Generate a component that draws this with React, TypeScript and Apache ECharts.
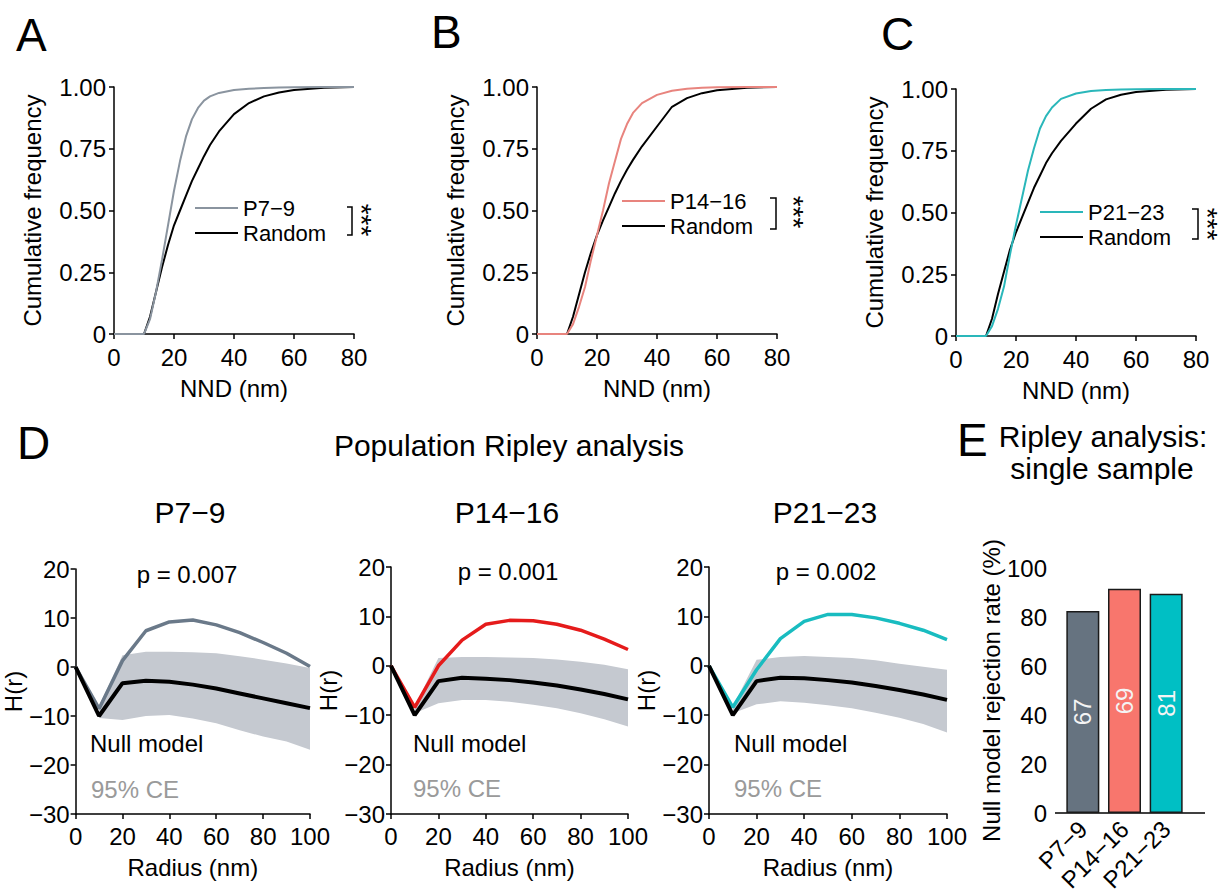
import React, { useEffect, useRef } from "react";
import * as echarts from "echarts";

const FONT = "'Liberation Sans', Arial, Helvetica, sans-serif";

// ---- Panels A–C: cumulative NND distributions ----
const nndX = [0, 10, 12, 14, 16, 18, 20, 22, 24, 26, 28, 30, 32, 35, 40, 45, 50, 55, 60, 70, 80];
const cdfP79 = [0, 0, 0.06, 0.17, 0.3, 0.44, 0.58, 0.7, 0.8, 0.87, 0.915, 0.945, 0.962, 0.976, 0.988, 0.993, 0.996, 0.998, 0.999, 1, 1];
const cdfRandA = [0, 0, 0.07, 0.17, 0.27, 0.36, 0.44, 0.5, 0.56, 0.62, 0.67, 0.72, 0.765, 0.82, 0.89, 0.935, 0.962, 0.978, 0.988, 0.997, 1];
const cdfP1416 = [0, 0, 0.04, 0.11, 0.19, 0.3, 0.4, 0.5, 0.61, 0.7, 0.79, 0.85, 0.895, 0.935, 0.968, 0.985, 0.993, 0.997, 0.999, 1, 1];
const cdfRandB = [0, 0, 0.07, 0.16, 0.25, 0.33, 0.4, 0.46, 0.515, 0.57, 0.62, 0.665, 0.705, 0.76, 0.84, 0.92, 0.955, 0.975, 0.987, 0.997, 1];
const cdfP2123 = [0, 0, 0.04, 0.11, 0.2, 0.33, 0.45, 0.56, 0.67, 0.76, 0.84, 0.89, 0.925, 0.96, 0.982, 0.992, 0.996, 0.998, 0.999, 1, 1];
const cdfRandC = [0, 0, 0.07, 0.17, 0.26, 0.35, 0.42, 0.48, 0.54, 0.6, 0.65, 0.7, 0.74, 0.79, 0.86, 0.92, 0.958, 0.977, 0.988, 0.997, 1];

// ---- Panel D: Ripley H(r) ----
const radius = [0, 10, 20, 30, 40, 50, 60, 70, 80, 90, 100];
const hP79 = [0, -8.5, 1.3, 7.4, 9.2, 9.6, 8.6, 7.0, 5.0, 2.8, 0.1];
const hNull1 = [0, -10, -3.3, -2.8, -3.0, -3.6, -4.4, -5.4, -6.4, -7.4, -8.4];
const ceUp1 = [null, -8.0, 2.4, 3.1, 3.1, 3.0, 2.8, 2.2, 1.5, 0.7, -0.2];
const ceLo1 = [null, -10.4, -10.8, -10.0, -9.8, -10.5, -11.5, -12.9, -14.2, -15.2, -16.9];

const hP1416 = [0, -8.4, 0, 5.2, 8.4, 9.2, 9.1, 8.4, 7.2, 5.4, 3.3];
const hNull2 = [0, -10, -3.1, -2.4, -2.6, -2.9, -3.4, -4.0, -4.8, -5.7, -6.8];
const ceUp2 = [null, -8.2, 1.6, 1.8, 1.8, 1.7, 1.6, 1.3, 0.8, 0.2, -0.7];
const ceLo2 = [null, -9.6, -7.6, -6.9, -6.9, -7.3, -7.9, -8.6, -9.6, -10.8, -12.3];

const hP2123 = [0, -8.4, -0.8, 5.5, 9.0, 10.4, 10.4, 9.7, 8.6, 7.2, 5.3];
const hNull3 = [0, -10, -3.1, -2.4, -2.5, -2.9, -3.4, -4.1, -4.9, -5.8, -6.9];
const ceUp3 = [null, -8.2, 1.2, 1.8, 2.0, 1.8, 1.6, 1.1, 0.4, -0.2, -0.8];
const ceLo3 = [null, -9.6, -7.8, -7.2, -7.5, -8.0, -8.6, -9.5, -10.5, -11.8, -13.5];

const pValues = ["p = 0.007", "p = 0.001", "p = 0.002"];

// ---- Panel E ----
const groups = ["P7\u22129", "P14\u221216", "P21\u221223"];
const rejectionRate = [82.5, 91.5, 89.5];
const sampleCounts = [67, 69, 81];

const cdfColors = ["#8a949f", "#e8847e", "#2ab7ba"];
const ripleyColors = ["#6a7989", "#e51b1b", "#19bcc0"];
const barColors = ["#667380", "#f8766d", "#00bfc4"];
const bandColor = "#c5c9d0";

const gridsA = [
  { left: 114, top: 87, width: 240, height: 247 },
  { left: 537, top: 87, width: 240, height: 247 },
  { left: 956, top: 89, width: 240, height: 247 },
];
const gridsD = [
  { left: 71, top: 569, width: 239, height: 245 },
  { left: 391, top: 567, width: 237, height: 247 },
  { left: 709, top: 567, width: 238, height: 247 },
];
const gridE = { left: 1062, top: 568, width: 125, height: 245 };

const axisLine = { onZero: false, lineStyle: { color: "#000", width: 1.5 } };
const axisTick = { length: 5, lineStyle: { color: "#000", width: 1.5 } };
const nameStyle = { fontSize: 24, color: "#000", fontFamily: FONT };
const minusFmt = (v: number) => (v < 0 ? "\u2212" + Math.abs(v) : String(v));

function txt(text: string, x: number, y: number, size: number, opts: any = {}) {
  return {
    type: "text",
    x,
    y,
    rotation: opts.rotation || 0,
    style: {
      text,
      fontSize: size,
      fontFamily: FONT,
      lineHeight: opts.lineHeight,
      fill: opts.fill || "#000",
      align: opts.align || "center",
      textAlign: opts.align || "center",
      verticalAlign: "middle",
      textVerticalAlign: "middle",
    },
  };
}

function bracket(x0: number, x1: number, y0: number, y1: number) {
  return {
    type: "polyline",
    shape: { points: [[x0, y0], [x1, y0], [x1, y1], [x0, y1]] },
    style: { stroke: "#000", lineWidth: 1.5, fill: null },
  };
}

export default function App() {
  const ref = useRef<HTMLDivElement>(null);
  useEffect(() => {
    if (!ref.current) return;
    const chart = echarts.init(ref.current, null, { renderer: "svg" });

    const cdfSets = [
      [cdfP79, cdfRandA],
      [cdfP1416, cdfRandB],
      [cdfP2123, cdfRandC],
    ];
    const ripSets = [
      [hP79, hNull1, ceUp1, ceLo1],
      [hP1416, hNull2, ceUp2, ceLo2],
      [hP2123, hNull3, ceUp3, ceLo3],
    ];

    const grid: any[] = [...gridsA, ...gridsD, gridE];
    const xAxis: any[] = [];
    const yAxis: any[] = [];
    const series: any[] = [];

    gridsA.forEach((_, i) => {
      xAxis.push({
        type: "value", gridIndex: i, min: 0, max: 80, interval: 20,
        axisLine, axisTick, splitLine: { show: false },
        axisLabel: { fontSize: 24, color: "#000", margin: 11, fontFamily: FONT },
        name: "NND (nm)", nameLocation: "middle", nameGap: 42, nameTextStyle: nameStyle,
      });
      yAxis.push({
        type: "value", gridIndex: i, min: 0, max: 1, interval: 0.25,
        axisLine, axisTick, splitLine: { show: false },
        axisLabel: {
          fontSize: 24, color: "#000", margin: 8, fontFamily: FONT,
          formatter: (v: number) => (v === 0 ? "0" : v.toFixed(2)),
        },
        name: "Cumulative frequency", nameLocation: "middle", nameGap: 70, nameTextStyle: nameStyle,
      });
      const [obs, rnd] = cdfSets[i];
      series.push({
        type: "line", name: groups[i], xAxisIndex: i, yAxisIndex: i,
        data: nndX.map((x, k) => [x, obs[k]]), symbol: "none", color: cdfColors[i],
        lineStyle: { width: 2, color: cdfColors[i] }, z: 3,
      });
      series.push({
        type: "line", name: "Random", xAxisIndex: i, yAxisIndex: i,
        data: nndX.map((x, k) => [x, rnd[k]]), symbol: "none", color: "#000",
        lineStyle: { width: 2, color: "#000" }, z: 2,
      });
    });

    gridsD.forEach((_, j) => {
      const gi = 3 + j;
      xAxis.push({
        type: "value", gridIndex: gi, min: 0, max: 100, interval: 20,
        axisLine, axisTick, splitLine: { show: false },
        axisLabel: { fontSize: 24, color: "#000", margin: 10, fontFamily: FONT },
        name: "Radius (nm)", nameLocation: "middle", nameGap: 41, nameTextStyle: nameStyle,
      });
      yAxis.push({
        type: "value", gridIndex: gi, min: -30, max: 20, interval: 10,
        axisLine, axisTick, splitLine: { show: false },
        axisLabel: { fontSize: 24, color: "#000", margin: 6, fontFamily: FONT, formatter: minusFmt },
        name: "H(r)", nameLocation: "middle", nameGap: 42, nameTextStyle: nameStyle,
      });
      const [obs, nul, up, lo] = ripSets[j] as any[];
      const bandIdx = radius.map((_, k) => k).filter((k) => up[k] != null && lo[k] != null);
      series.push({
        type: "custom", name: "95% CE " + j, xAxisIndex: gi, yAxisIndex: gi, silent: true, z: 1,
        data: bandIdx.map((k) => [radius[k], up[k], lo[k]]),
        encode: { x: 0, y: [1, 2] },
        renderItem: (params: any, api: any) => {
          if (params.dataIndex !== 0) return null;
          const pts: number[][] = [];
          bandIdx.forEach((k) => pts.push(api.coord([radius[k], up[k]])));
          bandIdx
            .slice()
            .reverse()
            .forEach((k) => pts.push(api.coord([radius[k], lo[k]])));
          return { type: "polygon", shape: { points: pts }, style: { fill: bandColor } };
        },
      });
      series.push({
        type: "line", name: groups[j] + " H(r)", xAxisIndex: gi, yAxisIndex: gi,
        data: radius.map((x, k) => [x, obs[k]]), symbol: "none",
        lineStyle: { width: 3.5, color: ripleyColors[j] }, z: 3,
      });
      series.push({
        type: "line", name: "Null model " + j, xAxisIndex: gi, yAxisIndex: gi,
        data: radius.map((x, k) => [x, nul[k]]), symbol: "none",
        lineStyle: { width: 4, color: "#000" }, z: 4,
      });
    });

    xAxis.push({
      type: "category", gridIndex: 6, data: groups,
      axisLine: { show: false }, axisTick: { show: false },
      axisLabel: { fontSize: 24, color: "#000", margin: 12, rotate: 45, fontFamily: FONT, interval: 0 },
    });
    yAxis.push({
      type: "value", gridIndex: 6, min: 0, max: 100, interval: 20, offset: 7,
      axisLine, axisTick, splitLine: { show: false },
      axisLabel: { fontSize: 24, color: "#000", margin: 8, fontFamily: FONT },
      name: "Null model rejection rate (%)", nameLocation: "middle", nameGap: 51, nameTextStyle: nameStyle,
    });
    series.push({
      type: "bar", name: "Rejection rate", xAxisIndex: 6, yAxisIndex: 6, barWidth: 33,
      data: rejectionRate.map((v, i) => ({ value: v, itemStyle: { color: barColors[i] } })),
      itemStyle: { borderColor: "#1a1a1a", borderWidth: 1.5 },
      label: {
        show: true, position: "inside", rotate: 90, color: "#f4f4f4", fontSize: 24, fontFamily: FONT,
        formatter: (p: any) => String(sampleCounts[p.dataIndex]),
      },
    });

    const legendBase = {
      orient: "vertical", icon: "rect", itemWidth: 43, itemHeight: 2, padding: 0,
      selectedMode: false,
      textStyle: { fontSize: 22, color: "#000", fontFamily: FONT },
    };
    const legend = [
      { ...legendBase, data: [groups[0]], left: 195, top: 197 },
      { ...legendBase, data: ["Random"], left: 195, top: 222 },
      { ...legendBase, data: [groups[1]], left: 622, top: 190 },
      { ...legendBase, data: ["Random"], left: 622, top: 215 },
      { ...legendBase, data: [groups[2]], left: 1040, top: 201 },
      { ...legendBase, data: ["Random"], left: 1040, top: 226 },
    ];

    const elements: any[] = [
      txt("A", 16, 35, 46, { align: "left" }),
      txt("B", 431, 32, 46, { align: "left" }),
      txt("C", 881, 34, 46, { align: "left" }),
      txt("D", 17, 443, 46, { align: "left" }),
      txt("E", 957, 440, 46, { align: "left" }),
      bracket(347, 352, 207, 235),
      bracket(770, 776, 198, 229),
      bracket(1192, 1198, 209, 239),
      txt("***", 361, 220, 28, { rotation: -Math.PI / 2 }),
      txt("***", 793, 212, 28, { rotation: -Math.PI / 2 }),
      txt("***", 1207, 224, 28, { rotation: -Math.PI / 2 }),
      txt("Population Ripley analysis", 509, 445, 30),
      txt(groups[0], 190, 512, 30),
      txt(groups[1], 507, 512, 30),
      txt(groups[2], 825, 512, 30),
      txt(pValues[0], 187, 574, 24),
      txt(pValues[1], 508, 571, 24),
      txt(pValues[2], 826, 571, 24),
      txt("Null model", 90, 743, 24, { align: "left" }),
      txt("Null model", 413, 743, 24, { align: "left" }),
      txt("Null model", 734, 743, 24, { align: "left" }),
      txt("95% CE", 91, 789, 24, { align: "left", fill: "#9a9a9a" }),
      txt("95% CE", 413, 788, 24, { align: "left", fill: "#9a9a9a" }),
      txt("95% CE", 734, 788, 24, { align: "left", fill: "#9a9a9a" }),
      txt("Ripley analysis:", 1103, 436, 30),
      txt("single sample", 1102, 468, 30),
      {
        type: "line",
        shape: { x1: 1055, y1: 813, x2: 1205, y2: 813 },
        style: { stroke: "#000", lineWidth: 1.5 },
      },
    ];

    chart.setOption({
      animation: false,
      backgroundColor: "#fff",
      textStyle: { fontFamily: FONT },
      grid,
      xAxis,
      yAxis,
      series,
      legend,
      graphic: { elements },
    });
    return () => chart.dispose();
  }, []);

  return (
    <div
      ref={ref}
      style={{ position: "fixed", left: 0, top: 0, width: 1225, height: 895, background: "#fff" }}
    />
  );
}
